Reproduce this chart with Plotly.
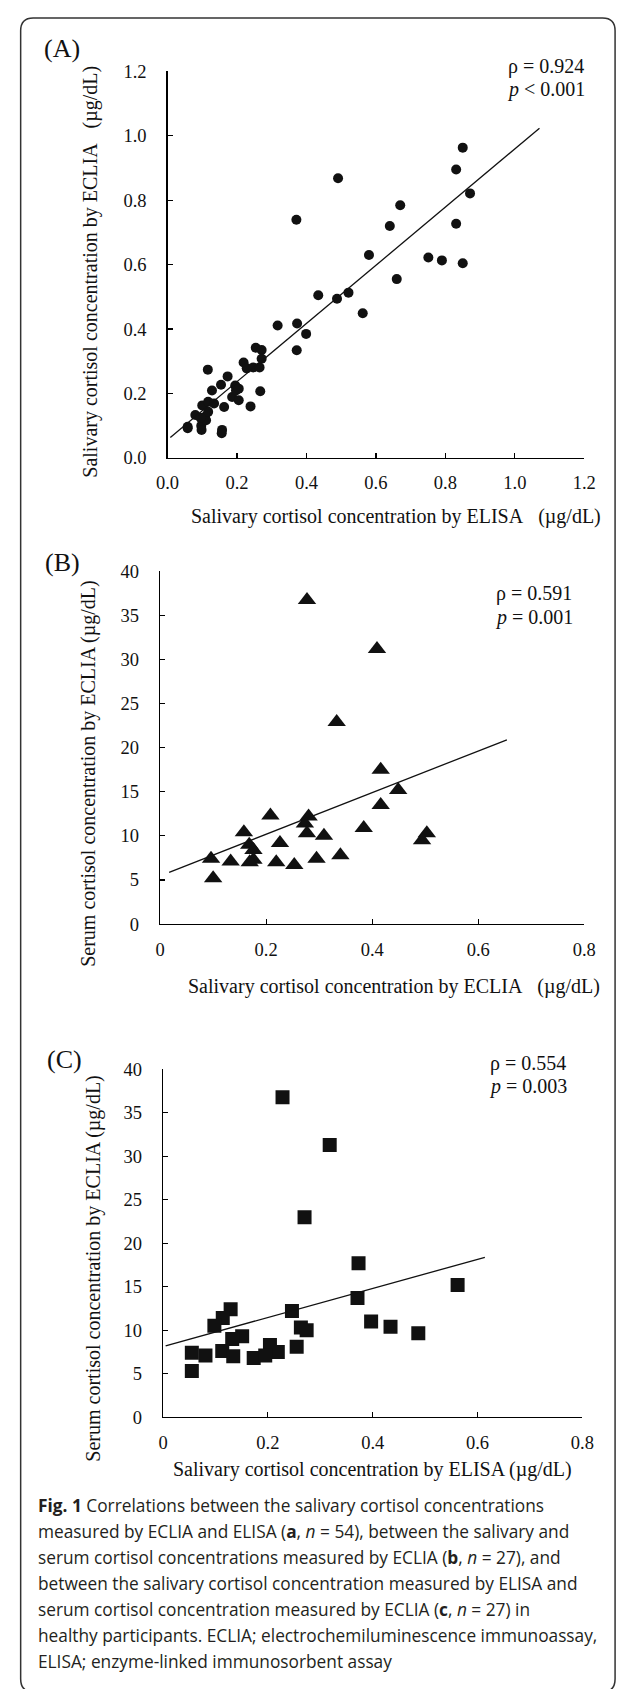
import plotly.graph_objects as go

W, H = 629, 1689

# ---------------- data ----------------
a_x = [0.058, 0.058, 0.080, 0.097, 0.098, 0.100, 0.108, 0.111, 0.117, 0.117, 0.116, 0.128, 0.134,
       0.154, 0.157, 0.156, 0.163, 0.173, 0.186, 0.195, 0.197, 0.205, 0.219, 0.228, 0.239, 0.247,
       0.254, 0.265, 0.267, 0.271, 0.271, 0.317, 0.371, 0.373, 0.372, 0.399, 0.434, 0.488, 0.491,
       0.521, 0.562, 0.580, 0.640, 0.660, 0.670, 0.751, 0.790, 0.831, 0.831, 0.850, 0.850, 0.871,
       0.095, 0.205]
a_y = [0.097, 0.092, 0.133, 0.100, 0.087, 0.163, 0.128, 0.117, 0.143, 0.174, 0.274, 0.209, 0.169,
       0.227, 0.087, 0.077, 0.158, 0.253, 0.189, 0.225, 0.209, 0.179, 0.296, 0.278, 0.160, 0.281,
       0.342, 0.281, 0.207, 0.335, 0.308, 0.411, 0.739, 0.417, 0.334, 0.385, 0.505, 0.494, 0.868,
       0.513, 0.449, 0.630, 0.720, 0.555, 0.784, 0.622, 0.613, 0.895, 0.727, 0.963, 0.604, 0.821,
       0.125, 0.215]

b_x = [0.277, 0.409, 0.333, 0.416, 0.449, 0.416, 0.208, 0.280, 0.273, 0.384, 0.158, 0.277, 0.309,
       0.503, 0.494, 0.226, 0.168, 0.176, 0.340, 0.176, 0.096, 0.133, 0.169, 0.219, 0.295, 0.253,
       0.100]
b_y = [36.75, 31.2, 22.9, 17.5, 15.2, 13.5, 12.3, 12.2, 11.4, 10.9, 10.4, 10.3, 10.0,
       10.3, 9.5, 9.2, 9.0, 8.4, 7.8, 7.3, 7.4, 7.1, 7.0, 7.0, 7.4, 6.7,
       5.2]

c_x = [0.228, 0.318, 0.270, 0.373, 0.562, 0.371, 0.129, 0.246, 0.114, 0.397, 0.098, 0.263, 0.274,
       0.434, 0.487, 0.151, 0.132, 0.204, 0.255, 0.113, 0.055, 0.081, 0.134, 0.219, 0.173, 0.195,
       0.055]
c_y = [36.8, 31.3, 23.0, 17.7, 15.2, 13.7, 12.4, 12.2, 11.4, 11.0, 10.5, 10.3, 10.0,
       10.4, 9.65, 9.3, 9.0, 8.3, 8.1, 7.6, 7.4, 7.1, 7.0, 7.5, 6.8, 7.1,
       5.3]

# regression lines: [x_start, x_end], slope, intercept
trend_a_x, trend_a_slope, trend_a_icpt = [0.008, 1.071], 0.903, 0.056
trend_b_x, trend_b_slope, trend_b_icpt = [0.017, 0.654], 23.6, 5.46
trend_c_x, trend_c_slope, trend_c_icpt = [0.005, 0.614], 16.7, 8.12

ticks_a = [0.0, 0.2, 0.4, 0.6, 0.8, 1.0, 1.2]
ticks_a_text = ["0.0", "0.2", "0.4", "0.6", "0.8", "1.0", "1.2"]
ticks_bc_x = [0, 0.2, 0.4, 0.6, 0.8]
ticks_bc_x_text = ["0", "0.2", "0.4", "0.6", "0.8"]
ticks_bc_y = [0, 5, 10, 15, 20, 25, 30, 35, 40]

stats_a = ["ρ = 0.924", "<i>p</i> &lt; 0.001"]
stats_b = ["ρ = 0.591", "<i>p</i> = 0.001"]
stats_c = ["ρ = 0.554", "<i>p</i> = 0.003"]

caption_lines = [
    "<b>Fig. 1</b> Correlations between the salivary cortisol concentrations",
    "measured by ECLIA and ELISA (<b>a</b>, <i>n</i> = 54), between the salivary and",
    "serum cortisol concentrations measured by ECLIA (<b>b</b>, <i>n</i> = 27), and",
    "between the salivary cortisol concentration measured by ELISA and",
    "serum cortisol concentration measured by ECLIA (<b>c</b>, <i>n</i> = 27) in",
    "healthy participants. ECLIA; electrochemiluminescence immunoassay,",
    "ELISA; enzyme-linked immunosorbent assay",
]

# ---------------- layout helpers ----------------
def px(x):
    return x / W

def py(y):
    return 1 - y / H

SERIF = "Liberation Serif, Times New Roman, serif"
INK = "#111111"

fig = go.Figure()

def line_xy(xs, slope, icpt):
    return xs, [slope * v + icpt for v in xs]

fig.add_trace(go.Scatter(x=a_x, y=a_y, mode="markers", xaxis="x", yaxis="y",
                         marker=dict(symbol="circle", size=10, color=INK), showlegend=False))
lx, ly = line_xy(trend_a_x, trend_a_slope, trend_a_icpt)
fig.add_trace(go.Scatter(x=lx, y=ly, mode="lines", xaxis="x", yaxis="y",
                         line=dict(color=INK, width=1.3), showlegend=False))

fig.add_trace(go.Scatter(x=b_x, y=b_y, mode="markers", xaxis="x2", yaxis="y2",
                         marker=dict(symbol="triangle-up", size=16, color=INK), showlegend=False))
lx, ly = line_xy(trend_b_x, trend_b_slope, trend_b_icpt)
fig.add_trace(go.Scatter(x=lx, y=ly, mode="lines", xaxis="x2", yaxis="y2",
                         line=dict(color=INK, width=1.3), showlegend=False))

fig.add_trace(go.Scatter(x=c_x, y=c_y, mode="markers", xaxis="x3", yaxis="y3",
                         marker=dict(symbol="square", size=14, color=INK), showlegend=False))
lx, ly = line_xy(trend_c_x, trend_c_slope, trend_c_icpt)
fig.add_trace(go.Scatter(x=lx, y=ly, mode="lines", xaxis="x3", yaxis="y3",
                         line=dict(color=INK, width=1.3), showlegend=False))

axis_common = dict(showline=True, linecolor="black", linewidth=1.3, ticks="inside",
                   ticklen=5, tickwidth=1.2, tickcolor="black", showgrid=False, zeroline=False,
                   tickfont=dict(family=SERIF, size=18.5, color=INK), fixedrange=True)

# panel pixel boxes (x0, x1, ytop, ybottom)
box_a = (161.7, 595.0, 62.0, 453.3)
box_b = (154.0, 595.0, 568.0, 925.0)
box_c = (157.0, 593.0, 1072.0, 1424.0)

def dom(box):
    x0, x1, yt, yb = box
    return [px(x0), px(x1)], [py(yb), py(yt)]

xa, ya = dom(box_a)
xb, yb = dom(box_b)
xc, yc = dom(box_c)

fig.update_layout(
    width=W, height=H, margin=dict(l=0, r=0, t=0, b=0),
    paper_bgcolor="white", plot_bgcolor="white", hovermode=False,
    xaxis=dict(domain=xa, anchor="y", range=[0, 1.2], tickvals=ticks_a, ticktext=ticks_a_text,
               ticklabelstandoff=8, **axis_common),
    yaxis=dict(domain=ya, anchor="x", range=[0, 1.2], tickvals=ticks_a, ticktext=ticks_a_text,
               ticklabelstandoff=16, **axis_common),
    xaxis2=dict(domain=xb, anchor="y2", range=[0, 0.8], tickvals=ticks_bc_x, ticktext=ticks_bc_x_text,
                ticklabelstandoff=8, **axis_common),
    yaxis2=dict(domain=yb, anchor="x2", range=[0, 40], tickvals=ticks_bc_y,
                ticklabelstandoff=16, **axis_common),
    xaxis3=dict(domain=xc, anchor="y3", range=[0, 0.8], tickvals=ticks_bc_x, ticktext=ticks_bc_x_text,
                ticklabelstandoff=8, **axis_common),
    yaxis3=dict(domain=yc, anchor="x3", range=[0, 40], tickvals=ticks_bc_y,
                ticklabelstandoff=16, **axis_common),
)

ann = []

def text(x, y, s, size, xanchor="center", family=SERIF, angle=0, color=INK):
    ann.append(dict(x=px(x), y=py(y), xref="paper", yref="paper", text=s, showarrow=False,
                    xanchor=xanchor, yanchor="middle", textangle=angle,
                    font=dict(family=family, size=size, color=color)))

# panel labels
text(52, 39, "(A)", 26)
text(53, 559, "(B)", 26)
text(55, 1062, "(C)", 26)

# stats
text(514, 57, stats_a[0], 20, "left")
text(513, 80, stats_a[1], 20, "left")
text(501, 590, stats_b[0], 20, "left")
text(500, 615, stats_b[1], 20, "left")
text(495, 1066, stats_c[0], 20, "left")
text(494, 1089, stats_c[1], 20, "left")

# axis titles
text(399, 513, "Salivary cortisol concentration by ELISA&#160;&#160;&#160;(µg/dL)", 20)
text(82, 265, "Salivary cortisol concentration by ECLIA&#160;&#160;&#160;(µg/dL)", 20, angle=-90)
text(397, 988, "Salivary cortisol concentration by ECLIA&#160;&#160;&#160;(µg/dL)", 20)
text(80, 773, "Serum cortisol concentration by ECLIA (µg/dL)", 20, angle=-90)
text(375, 1477, "Salivary cortisol concentration by ELISA (µg/dL)", 20)
text(85, 1274, "Serum cortisol concentration by ECLIA (µg/dL)", 20, angle=-90)

# caption
cap_y0, cap_dy = 1513, 26.3
for i, line in enumerate(caption_lines):
    text(25, cap_y0 + i * cap_dy, line, 17.3, "left", family="Open Sans, sans-serif", color="#231f20")

fig.update_layout(annotations=ann)

# rounded frame (bottom edge lies just below the visible page)
x0, x1, y0, y1, r = 9, 627, 8, 1702, 13
path = (f"M {px(x0 + r)},{py(y0)} L {px(x1 - r)},{py(y0)} Q {px(x1)},{py(y0)} {px(x1)},{py(y0 + r)} "
        f"L {px(x1)},{py(y1 - r)} Q {px(x1)},{py(y1)} {px(x1 - r)},{py(y1)} "
        f"L {px(x0 + r)},{py(y1)} Q {px(x0)},{py(y1)} {px(x0)},{py(y1 - r)} "
        f"L {px(x0)},{py(y0 + r)} Q {px(x0)},{py(y0)} {px(x0 + r)},{py(y0)} Z")
fig.add_shape(type="path", path=path, xref="paper", yref="paper",
              line=dict(color="#333333", width=1.5), fillcolor="rgba(0,0,0,0)", layer="below")

fig.write_html("out.html",
               config={"displayModeBar": False, "staticPlot": True},
               post_script="document.body.style.margin='0px';document.body.style.overflow='hidden';")
